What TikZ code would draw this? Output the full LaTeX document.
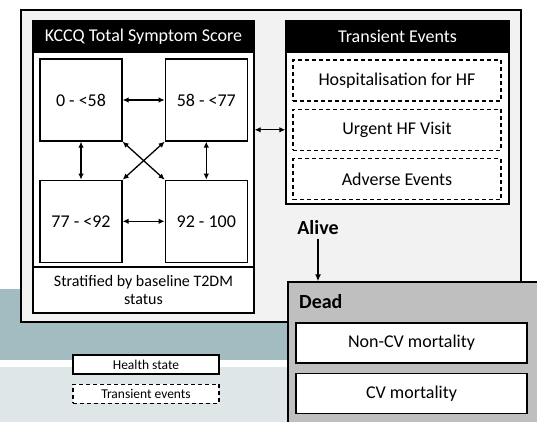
\documentclass[tikz,border=0pt]{standalone}
\usepackage{fontspec}
\setmainfont{Carlito}
\usetikzlibrary{arrows.meta, positioning}
\definecolor{outerbg}{RGB}{242,242,242}
\definecolor{deadbg}{RGB}{191,191,191}
\definecolor{bandtop}{RGB}{163,188,193}
\definecolor{bandlow}{RGB}{222,230,232}

\begin{document}
\begin{tikzpicture}[
  x=1pt, y=-1pt,
  node distance=38pt and 42pt,
  frame/.style  = {rectangle, draw=black, line width=1.3pt, inner sep=0pt},
  hstate/.style = {frame, fill=white, minimum width=82pt, minimum height=82pt,
                   font=\fontsize{18}{21}\selectfont},
  tevent/.style = {frame, fill=white, dash pattern=on 4pt off 3pt,
                   minimum width=208pt, minimum height=41pt, font=\fontsize{18}{21}\selectfont},
  hdr/.style    = {frame, fill=black, text=white, minimum height=31pt,
                   font=\fontsize{18}{21}\selectfont},
  death/.style  = {frame, fill=white, minimum width=231pt, minimum height=40pt,
                   font=\fontsize{18}{21}\selectfont},
  legbox/.style = {frame, fill=white, minimum width=146pt, minimum height=19pt,
                   font=\fontsize{13.5}{16}\selectfont},
  arr/.style    = {{Latex[length=6pt,width=5.5pt]}-{Latex[length=6pt,width=5.5pt]}, line width=1.3pt}
]
\clip (0,0) rectangle (537,422);
% background bands
\fill[white] (0,0) rectangle (537,289);
\fill[bandtop] (0,289) rectangle (537,360);
\fill[bandlow] (0,367) rectangle (537,422);

% alive states
\node[frame, fill=outerbg, minimum width=500pt, minimum height=312pt] (alivebox) at (271,166) {};
\node[frame, fill=white, minimum width=221pt, minimum height=292pt] (kccq) at (143.5,167) {};
\node[hdr, minimum width=221pt] (kccqhdr) at (143.5,36.5) {KCCQ Total Symptom Score};
\node[frame, fill=white, minimum width=221pt, minimum height=46pt, align=center,
      font=\fontsize{16}{18.5}\selectfont] (strat) at (143.5,290) {Stratified by baseline T2DM\\status};

\node[hstate] (s1) at (81,100) {0 - <58};
\node[hstate, right=of s1] (s2) {58 - <77};
\node[hstate, below=of s1] (s3) {77 - <92};
\node[hstate, right=of s3] (s4) {92 - 100};

\draw[arr] (s1) -- (s2); \draw[arr] (s3) -- (s4);
\draw[arr] (s1) -- (s3); \draw[arr] (s2) -- (s4);
\draw[arr] (s1.south east) -- (s4.north west);
\draw[arr] (s2.south west) -- (s3.north east);

% transient events
\node[frame, fill=white, minimum width=223pt, minimum height=183pt] (trans) at (397.5,112.5) {};
\node[hdr, minimum width=223pt] (transhdr) at (397.5,36.5) {Transient Events};
\node[tevent] (hosp) at (397,80.5) {Hospitalisation for HF};
\node[tevent, below=7pt of hosp] (urg) {Urgent HF Visit};
\node[tevent, below=7pt of urg] (adv) {Adverse Events};

\draw[arr] (kccq.east |- urg) -- (trans.west |- urg);

% dead
\node[font=\fontsize{20}{24}\selectfont\bfseries] (alive) at (318,228) {Alive};
\node[frame, fill=deadbg, minimum width=257pt, minimum height=148pt] (dead) at (416.5,356) {};
\draw[-{Latex[length=7pt,width=6pt]}, line width=1.8pt] (alive.south) -- (alive.south |- dead.north);
\node[anchor=west, inner sep=0pt, font=\fontsize{20}{24}\selectfont\bfseries] (deadlbl) at (299,302) {Dead};
\node[death] (noncv) at (411.5,343) {Non-CV mortality};
\node[death, below=9pt of noncv] (cv) {CV mortality};

% legend
\node[legbox] (leghs) at (146,364.5) {Health state};
\node[legbox, dash pattern=on 4pt off 3pt, below=9pt of leghs] (legte) {Transient events};
\end{tikzpicture}
\end{document}
